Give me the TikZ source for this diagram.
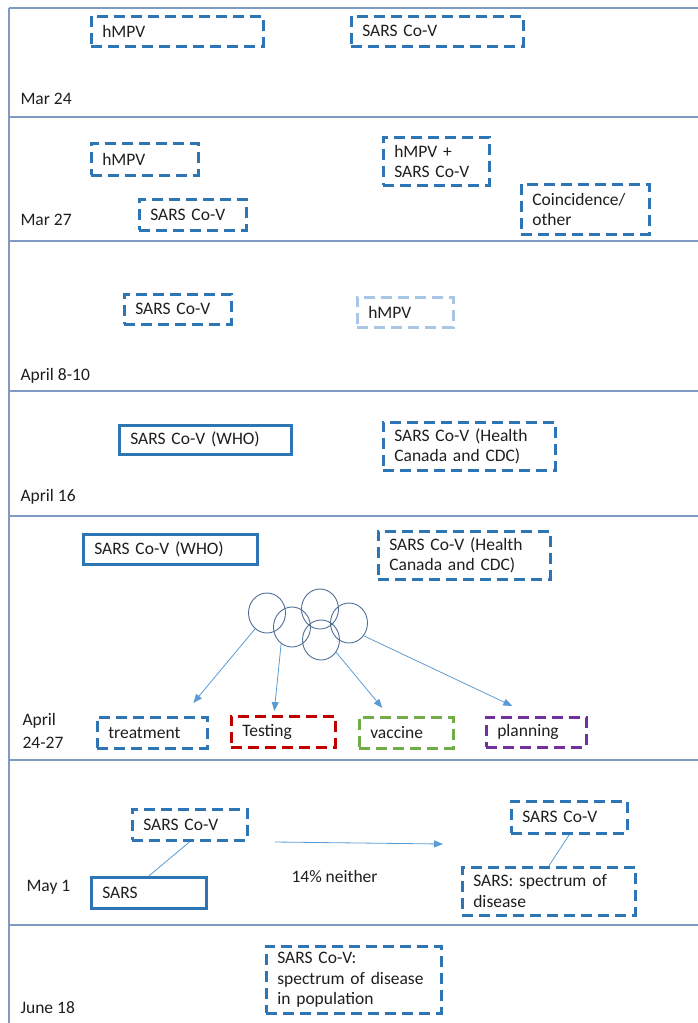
\documentclass[tikz,border=0pt]{standalone}
\usepackage{fontspec}
\setmainfont{Carlito}
\usetikzlibrary{arrows.meta, shapes.geometric}
\definecolor{boxblue}{HTML}{2E75B6}
\definecolor{paleblue}{HTML}{A9C6E6}
\definecolor{rulegray}{HTML}{7F9BC0}
\definecolor{arrowblue}{HTML}{5B9BD5}
\definecolor{ringblue}{HTML}{4F6E96}
\definecolor{testred}{HTML}{C00000}
\definecolor{vacgreen}{HTML}{70AD47}
\definecolor{planpurple}{HTML}{7030A0}
\definecolor{inkgray}{HTML}{1E1E1E}

\begin{document}
\begin{tikzpicture}[
  x=1pt, y=-1pt,
  every node/.style={font=\fontsize{17.5}{20.5}\selectfont, text=inkgray},
  dbox/.style={draw=boxblue, line width=2.6pt, dash pattern=on 11pt off 6pt,
               anchor=north west, inner xsep=11pt, inner ysep=0pt, align=left},
  sbox/.style={draw=boxblue, line width=2.6pt,
               anchor=north west, inner xsep=11pt, inner ysep=0pt, align=left},
  ring/.style={draw=ringblue, line width=0.9pt, ellipse, inner sep=0pt,
               minimum width=37pt, minimum height=40pt},
  arrow/.style={arrowblue, line width=0.8pt, -{Triangle[length=9pt, width=7pt]}},
  link/.style={arrowblue, line width=0.8pt},
  date/.style={anchor=west, align=left},
  rule/.style={draw=rulegray, line width=1.3pt}
]
  \useasboundingbox (0,0) rectangle (698,1023);

  % Frame
  \draw[rule] (9,8) -- (9,1023);
  \foreach \yy in {8,117,241,391,516,760,925}
    \draw[rule] (9,\yy) -- (698,\yy);

  % Mar 24
  \node[dbox, text width=150pt, minimum height=30pt] (hmpvA) at (90,15) {hMPV};
  \node[dbox, text width=150pt, minimum height=30pt] (covA) at (350,15) {SARS Co-V};
  \node[date] (dA) at (17,99) {Mar 24};

  % Mar 27
  \node[dbox, text width=85pt, minimum height=32pt] (hmpvB) at (90,142) {hMPV};
  \node[dbox, text width=85pt, minimum height=31pt] (covB) at (138,198) {SARS Co-V};
  \node[dbox, text width=84pt, minimum height=48pt] (bothB) at (382,136) {hMPV +\\SARS Co-V};
  \node[dbox, text width=106pt, minimum height=50pt] (otherB) at (520,183) {Coincidence/\\other};
  \node[date] (dB) at (17,220) {Mar 27};

  % April 8-10
  \node[dbox, text width=85pt, minimum height=30pt] (covC) at (123,293) {SARS Co-V};
  \node[dbox, draw=paleblue, text width=74pt, minimum height=30pt] (hmpvC) at (356,296) {hMPV};
  \node[date] (dC) at (17,376) {April 8-10};

  % April 16
  \node[sbox, text width=150pt, minimum height=29pt] (whoD) at (118,424) {SARS Co-V (WHO)};
  \node[dbox, text width=150pt, minimum height=48pt] (hcD) at (382,421) {SARS Co-V (Health\\Canada and CDC)};
  \node[date] (dD) at (17,497) {April 16};

  % April 24-27
  \node[sbox, text width=152pt, minimum height=30pt] (whoE) at (82,533) {SARS Co-V (WHO)};
  \node[dbox, text width=150pt, minimum height=48pt] (hcE) at (377,530) {SARS Co-V (Health\\Canada and CDC)};
  \node[ring] (r1) at (267,613) {};
  \node[ring] (r2) at (292,627) {};
  \node[ring] (r3) at (320,609) {};
  \node[ring] (r4) at (349,623) {};
  \node[ring] (r5) at (321,640) {};
  \node[dbox, text width=88pt, minimum height=31pt] (treat) at (96,716) {treatment};
  \node[dbox, draw=testred, text width=82pt, minimum height=31pt] (test) at (230,715) {Testing};
  \node[dbox, draw=vacgreen, text width=72pt, minimum height=31pt] (vacc) at (358,716) {vaccine};
  \node[dbox, draw=planpurple, text width=78pt, minimum height=30pt] (plan) at (485,716) {planning};
  \node[date] (dE) at (19,731) {April\\[3pt]24-27};

  \draw[arrow] (r1.233) -- ([xshift=41pt, yshift=13pt]treat.north);
  \draw[arrow] (r2.237) -- ([xshift=-9pt, yshift=4pt]test.north);
  \draw[arrow] (r5.321) -- ([xshift=-24pt, yshift=8pt]vacc.north);
  \draw[arrow] (r4.319) -- ([xshift=-24pt, yshift=10pt]plan.north);

  % May 1
  \node[dbox, text width=93pt, minimum height=31pt] (covF) at (131,808) {SARS Co-V};
  \node[sbox, text width=93pt, minimum height=31pt] (sarsF) at (90,876) {SARS};
  \node[dbox, text width=94pt, minimum height=32pt] (covG) at (510,800) {SARS Co-V};
  \node[dbox, text width=151pt, minimum height=48pt] (specG) at (461,866) {SARS: spectrum of\\disease};
  \node[anchor=west] (neither) at (288,876) {14\% neither};
  \node[date] (dF) at (23,887) {May 1};
  \coordinate (fromF) at (275,842);
  \coordinate (toF) at (443,844);

  \draw[link] (covF.south) -- (sarsF.north);
  \draw[link] (covG.south) -- (specG.north);
  \draw[arrow] (fromF) -- (toF);

  % June 18
  \node[dbox, text width=153pt, minimum height=67pt] (popH) at (265,945) {SARS Co-V:\\spectrum of disease\\in population};
  \node[date] (dH) at (17,1008) {June 18};
\end{tikzpicture}
\end{document}
